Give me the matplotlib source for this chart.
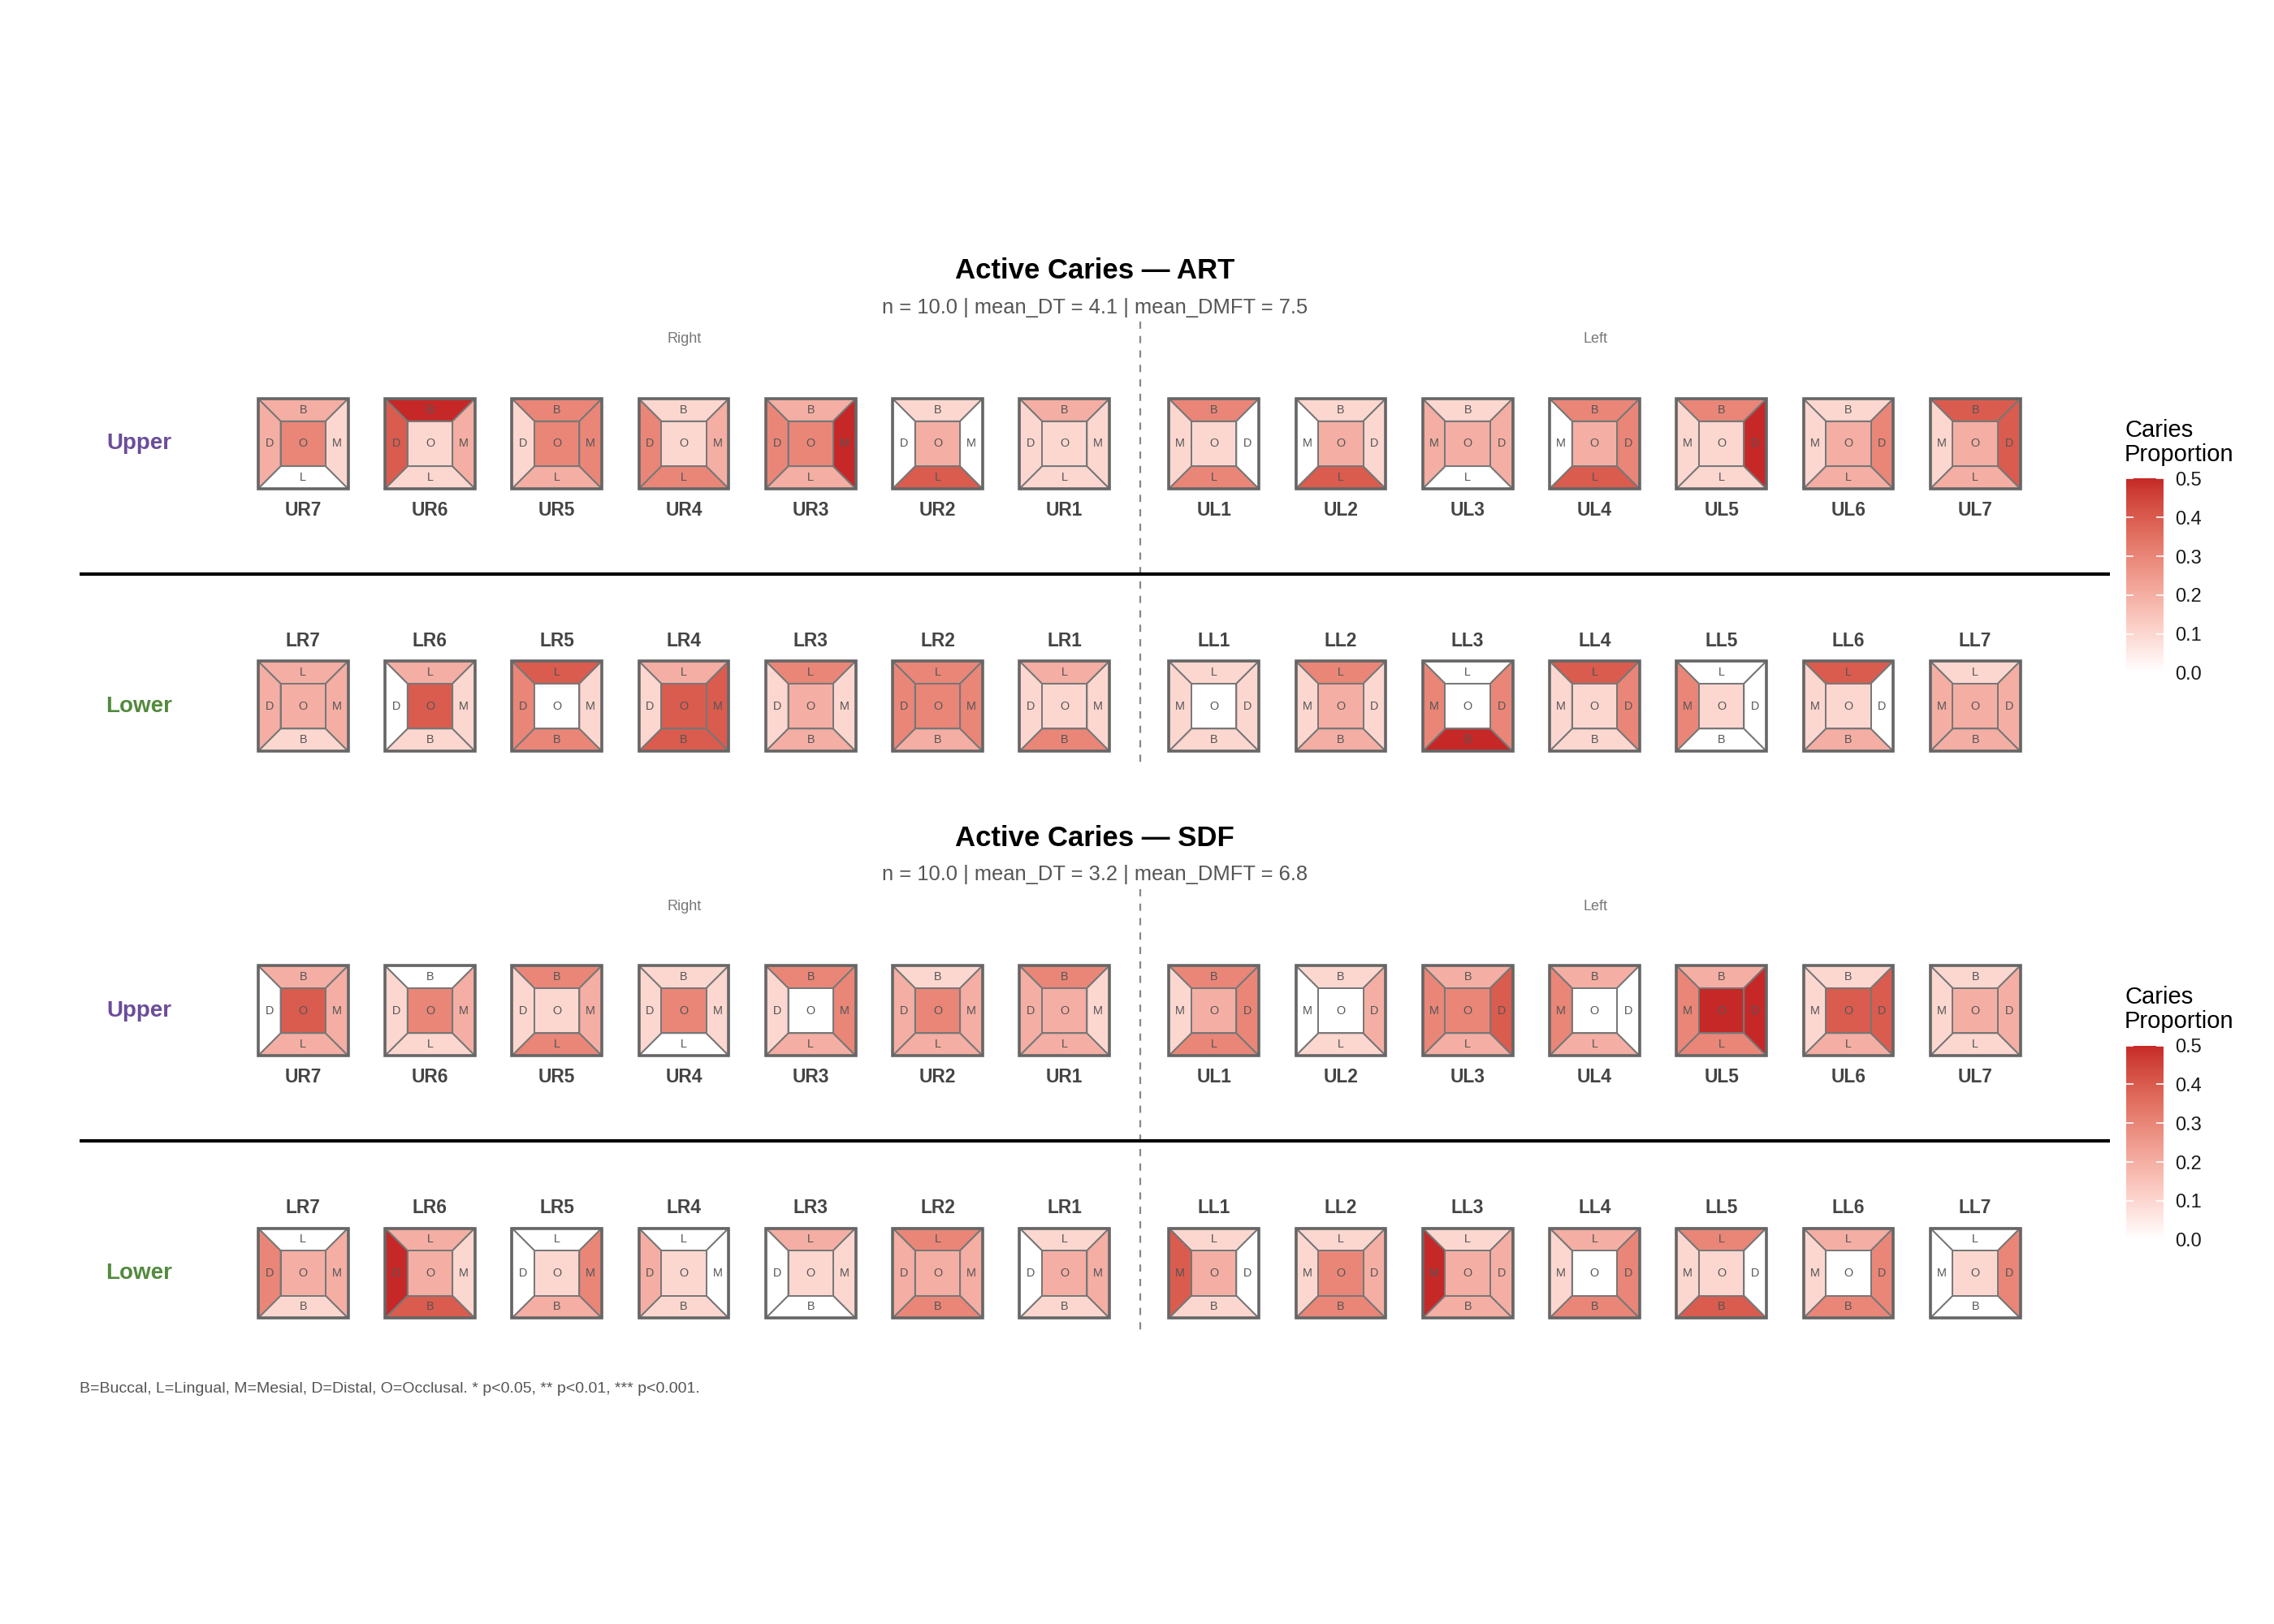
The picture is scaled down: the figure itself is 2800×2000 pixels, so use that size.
import numpy as np
import matplotlib
matplotlib.use("Agg")
import matplotlib.pyplot as plt
from matplotlib.patches import Polygon, Rectangle
from matplotlib.colors import ListedColormap, Normalize
from matplotlib.cm import ScalarMappable
from matplotlib.ticker import FormatStrFormatter

plt.rcParams['font.family'] = ['Liberation Sans', 'DejaVu Sans']

# ---------------- data ----------------
upper_teeth = ["UR7", "UR6", "UR5", "UR4", "UR3", "UR2", "UR1",
               "UL1", "UL2", "UL3", "UL4", "UL5", "UL6", "UL7"]
lower_teeth = ["LR7", "LR6", "LR5", "LR4", "LR3", "LR2", "LR1",
               "LL1", "LL2", "LL3", "LL4", "LL5", "LL6", "LL7"]

arms = ["ART", "SDF"]
arm_stats = ["n = 10.0 | mean_DT = 4.1 | mean_DMFT = 7.5",
             "n = 10.0 | mean_DT = 3.2 | mean_DMFT = 6.8"]

# ART upper (order UR7..UR1, UL1..UL7)
art_upper_B = [.2, .5, .3, .1, .2, .1, .2, .3, .1, .1, .3, .3, .1, .4]
art_upper_D = [.2, .4, .1, .3, .3, 0, .1, 0, .1, .2, .3, .5, .3, .4]
art_upper_O = [.3, .1, .3, .1, .3, .2, .1, .1, .2, .2, .2, .1, .2, .2]
art_upper_M = [.1, .2, .3, .2, .5, 0, .1, .1, 0, .2, 0, .1, .1, .1]
art_upper_L = [0, .1, .2, .3, .2, .4, .1, .3, .4, 0, .4, .1, .2, .2]
# ART lower (order LR7..LR1, LL1..LL7)
art_lower_L = [.2, .2, .4, .2, .3, .3, .2, .1, .3, 0, .4, 0, .4, .1]
art_lower_D = [.2, 0, .3, .1, .1, .3, .1, .1, .1, .3, .3, 0, 0, .2]
art_lower_O = [.2, .4, 0, .4, .2, .3, .1, 0, .2, 0, .1, .1, .1, .2]
art_lower_M = [.2, .1, .1, .4, .1, .3, .1, .1, .1, .3, .1, .3, .1, .2]
art_lower_B = [.1, .1, .3, .4, .2, .2, .3, .1, .2, .5, .1, 0, .2, .2]
# SDF upper
sdf_upper_B = [.2, 0, .3, .1, .3, .1, .3, .3, .1, .2, .2, .2, .1, .1]
sdf_upper_D = [0, .1, .1, .1, .1, .2, .2, .3, .2, .4, 0, .5, .4, .2]
sdf_upper_O = [.4, .3, .1, .3, 0, .3, .2, .2, 0, .3, 0, .5, .4, .2]
sdf_upper_M = [.2, .2, .2, .1, .3, .2, .1, .1, 0, .3, .3, .3, .1, .1]
sdf_upper_L = [.2, .1, .3, 0, .2, .2, .2, .3, .1, .2, .2, .3, .2, .1]
# SDF lower
sdf_lower_L = [0, .2, 0, 0, .2, .3, .1, .1, .1, .1, .2, .3, .2, 0]
sdf_lower_D = [.3, .5, 0, .2, 0, .2, 0, 0, .2, .2, .3, 0, .3, .3]
sdf_lower_O = [.2, .2, .1, .1, .1, .2, .2, .2, .3, .2, 0, .1, 0, .1]
sdf_lower_M = [.2, .1, .3, 0, .1, .2, .2, .4, .1, .5, .1, .1, .1, 0]
sdf_lower_B = [.1, .4, .2, .1, 0, .3, .1, .1, .3, .2, .3, .4, .3, 0]

surface_data = {
    ("ART", "upper"): dict(B=art_upper_B, D=art_upper_D, O=art_upper_O, M=art_upper_M, L=art_upper_L),
    ("ART", "lower"): dict(B=art_lower_B, D=art_lower_D, O=art_lower_O, M=art_lower_M, L=art_lower_L),
    ("SDF", "upper"): dict(B=sdf_upper_B, D=sdf_upper_D, O=sdf_upper_O, M=sdf_upper_M, L=sdf_upper_L),
    ("SDF", "lower"): dict(B=sdf_lower_B, D=sdf_lower_D, O=sdf_lower_O, M=sdf_lower_M, L=sdf_lower_L),
}

legend_ticks = [0.0, 0.1, 0.2, 0.3, 0.4, 0.5]

# ---------------- colour scale (Lab interpolation white -> red) ----------------
def srgb_to_lab(rgb):
    c = np.array(rgb, float)
    lin = np.where(c <= 0.04045, c / 12.92, ((c + 0.055) / 1.055) ** 2.4)
    M = np.array([[0.4124564, 0.3575761, 0.1804375],
                  [0.2126729, 0.7151522, 0.0721750],
                  [0.0193339, 0.1191920, 0.9503041]])
    xyz = M @ lin / np.array([0.95047, 1.0, 1.08883])
    d = 6 / 29
    f = np.where(xyz > d ** 3, np.cbrt(xyz), xyz / (3 * d * d) + 4 / 29)
    return np.array([116 * f[1] - 16, 500 * (f[0] - f[1]), 200 * (f[1] - f[2])])

def lab_to_srgb(lab):
    L, a, b = lab
    fy = (L + 16) / 116
    fx = fy + a / 500
    fz = fy - b / 200
    d = 6 / 29
    f = np.array([fx, fy, fz])
    xyz = np.where(f > d, f ** 3, 3 * d * d * (f - 4 / 29)) * np.array([0.95047, 1.0, 1.08883])
    Minv = np.array([[3.2404542, -1.5371385, -0.4985314],
                     [-0.9692660, 1.8760108, 0.0415560],
                     [0.0556434, -0.2040259, 1.0572252]])
    lin = Minv @ xyz
    lin = np.clip(lin, 0, 1)
    c = np.where(lin <= 0.0031308, 12.92 * lin, 1.055 * lin ** (1 / 2.4) - 0.055)
    return np.clip(c, 0, 1)

lab_lo = srgb_to_lab([1, 1, 1])
lab_hi = srgb_to_lab([0xC6 / 255, 0x28 / 255, 0x28 / 255])
cols = [lab_to_srgb(lab_lo + (lab_hi - lab_lo) * t) for t in np.linspace(0, 1, 256)]
cmap = ListedColormap(cols)
norm = Normalize(0, 0.5)

# ---------------- figure ----------------
W, H = 1568.0, 1120.0
fig = plt.figure(figsize=(14, 10), dpi=200)
ax = fig.add_axes([0, 0, 1, 1])
ax.set_xlim(0, W)
ax.set_ylim(H, 0)
ax.axis('off')

x_right = [209 + 87.5 * i for i in range(7)]
x_left = [837 + 87.5 * i for i in range(7)]
tooth_x = x_right + x_left
mid_x = 786
half = 31
ihalf = 15.5
edge_col = '#777777'
letter_col = '#555555'

def draw_tooth(cx, cy, vals, jaw, side):
    top, bottom = ("B", "L") if jaw == "upper" else ("L", "B")
    left, right = ("D", "M") if side == "right" else ("M", "D")
    o0 = (cx - half, cy - half); o1 = (cx + half, cy - half)
    o2 = (cx + half, cy + half); o3 = (cx - half, cy + half)
    i0 = (cx - ihalf, cy - ihalf); i1 = (cx + ihalf, cy - ihalf)
    i2 = (cx + ihalf, cy + ihalf); i3 = (cx - ihalf, cy + ihalf)
    polys = {
        top: [o0, o1, i1, i0],
        bottom: [o3, o2, i2, i3],
        left: [o0, i0, i3, o3],
        right: [o1, i1, i2, o2],
        "O": [i0, i1, i2, i3],
    }
    for s, pts in polys.items():
        ax.add_patch(Polygon(pts, closed=True, facecolor=cmap(norm(vals[s])),
                             edgecolor=edge_col, lw=0.7, joinstyle='miter'))
    ax.add_patch(Rectangle((cx - half, cy - half), 2 * half, 2 * half, fill=False,
                           edgecolor='#666666', lw=1.3, joinstyle='miter'))
    b = (half + ihalf) / 2
    fs = 5.2
    ax.text(cx, cy - b, top, ha='center', va='center', fontsize=fs, color=letter_col)
    ax.text(cx, cy + b, bottom, ha='center', va='center', fontsize=fs, color=letter_col)
    ax.text(cx - b, cy, left, ha='center', va='center', fontsize=fs, color=letter_col)
    ax.text(cx + b, cy, right, ha='center', va='center', fontsize=fs, color=letter_col)
    ax.text(cx, cy, "O", ha='center', va='center', fontsize=fs, color=letter_col)

panel_dy = [0, 391]
for p, arm in enumerate(arms):
    dy = panel_dy[p]
    ax.text(755, 187 + dy, f"Active Caries — {arm}", ha='center', va='center',
            fontsize=12.5, fontweight='bold', color='black')
    ax.text(755, 212 + dy, arm_stats[p], ha='center', va='center',
            fontsize=9.2, color='#555555')
    ax.text(472, 234 + dy, "Right", ha='center', va='center', fontsize=6.5, color='#777777')
    ax.text(1100, 234 + dy, "Left", ha='center', va='center', fontsize=6.5, color='#777777')
    ax.plot([mid_x, mid_x], [222 + dy, 530 + dy], color='#888888', lw=0.8,
            ls=(0, (4, 4)), zorder=0)
    ax.plot([55, 1455], [396 + dy, 396 + dy], color='black', lw=1.5, solid_capstyle='butt')
    ax.text(96, 306 + dy, "Upper", ha='center', va='center', fontsize=10,
            fontweight='bold', color='#6B4C9A')
    ax.text(96, 487 + dy, "Lower", ha='center', va='center', fontsize=10,
            fontweight='bold', color='#538A3F')

    up = surface_data[(arm, "upper")]
    lo = surface_data[(arm, "lower")]
    for i in range(14):
        side = "right" if i < 7 else "left"
        cx = tooth_x[i]
        draw_tooth(cx, 306 + dy, {s: up[s][i] for s in "BDOML"}, "upper", side)
        ax.text(cx, 352 + dy, upper_teeth[i], ha='center', va='center', fontsize=8.2,
                fontweight='bold', color='#444444')
        draw_tooth(cx, 487 + dy, {s: lo[s][i] for s in "BDOML"}, "lower", side)
        ax.text(cx, 442 + dy, lower_teeth[i], ha='center', va='center', fontsize=8.2,
                fontweight='bold', color='#444444')

    # legend
    ax.text(1465, 305 + dy, "Caries\nProportion", ha='left', va='center', fontsize=10.5,
            color='black', linespacing=1.1)
    cax = fig.add_axes([1466 / W, 1 - (464 + dy) / H, 26 / W, 134 / H])
    sm = ScalarMappable(norm=norm, cmap=cmap)
    cb = fig.colorbar(sm, cax=cax, ticks=legend_ticks)
    cb.outline.set_visible(False)
    cax.yaxis.set_major_formatter(FormatStrFormatter('%.1f'))
    cax.tick_params(axis='y', which='major', direction='in', length=3.2, width=0.6,
                    color='white', left=True, right=True, labelleft=False,
                    labelright=True, labelsize=8.5, labelcolor='#1a1a1a', pad=5)
    cax.minorticks_off()

ax.text(55, 958, "B=Buccal, L=Lingual, M=Mesial, D=Distal, O=Occlusal. * p<0.05, ** p<0.01, *** p<0.001.",
        ha='left', va='center', fontsize=7.0, color='#555555')

fig.savefig("out.png", dpi=200, facecolor='white')
